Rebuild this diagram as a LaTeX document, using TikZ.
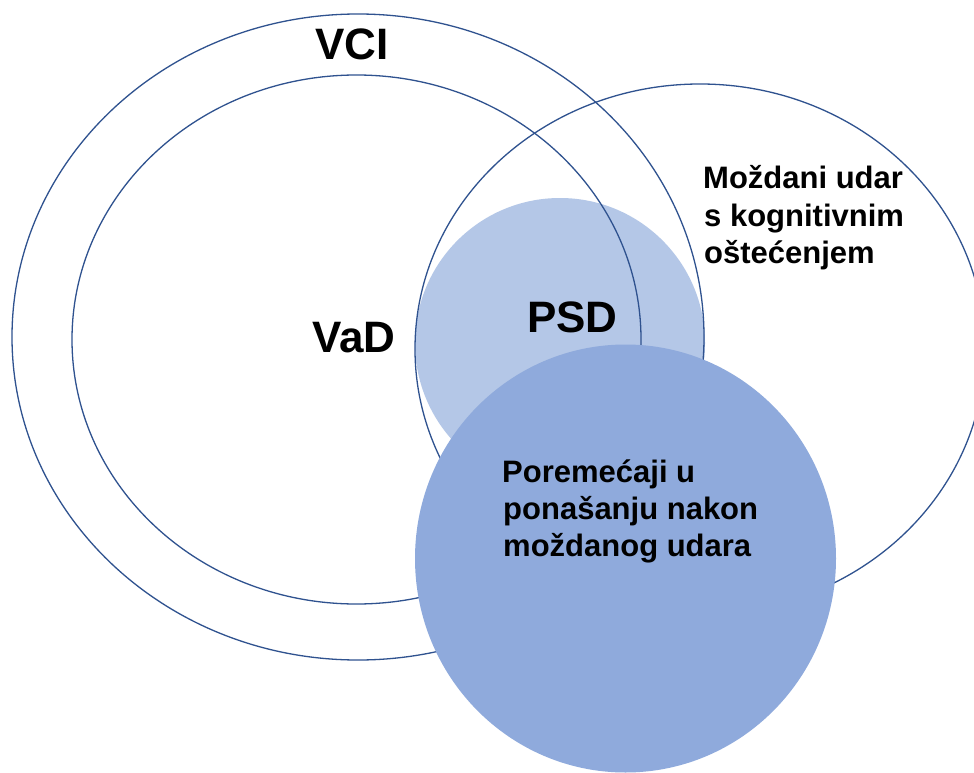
\documentclass[tikz,border=0pt]{standalone}
\usepackage{fontspec}
\setmainfont{Liberation Sans}
\definecolor{ringblue}{HTML}{2F528F}
\definecolor{psdblue}{HTML}{B4C7E7}
\definecolor{bpsdblue}{HTML}{8FAADC}
\begin{document}
\begin{tikzpicture}[x=1pt,y=-1pt,
  ring/.style={draw=ringblue, line width=1.3pt},
  lbl/.style={font=\fontsize{31}{37}\selectfont\bfseries, anchor=base west, inner sep=0pt},
  big/.style={font=\fontsize{44}{50}\selectfont\bfseries, anchor=base west, inner sep=0pt}]
\useasboundingbox (0,0) rectangle (974,773);
\clip (0,0) rectangle (974,773);
\fill[white] (0,0) rectangle (974,773);
% PSD circle
\fill[psdblue] (560,343) circle [radius=145];
% outline circles
\draw[ring] (358,337) ellipse [x radius=346, y radius=323];
\draw[ring] (356.5,339.5) ellipse [x radius=284.5, y radius=264.5];
\draw[ring] (700,349) ellipse [x radius=285, y radius=265];
% behavioural disorders circle
\fill[bpsdblue] (625.5,558.5) ellipse [x radius=210.5, y radius=214];
% labels
\node[big] (vci) at (315,60) {VCI};
\node[big] (vad) at (312,352) {VaD};
\node[big] (psd) at (527,332) {PSD};
\node[lbl] (mu1) at (703,188) {Moždani udar};
\node[lbl] (mu2) at (704,226) {s kognitivnim};
\node[lbl] (mu3) at (704,263) {oštećenjem};
\node[lbl] (pp1) at (502,482) {Poremećaji u};
\node[lbl] (pp2) at (503,519) {ponašanju nakon};
\node[lbl] (pp3) at (503,556) {moždanog udara};
\end{tikzpicture}
\end{document}
